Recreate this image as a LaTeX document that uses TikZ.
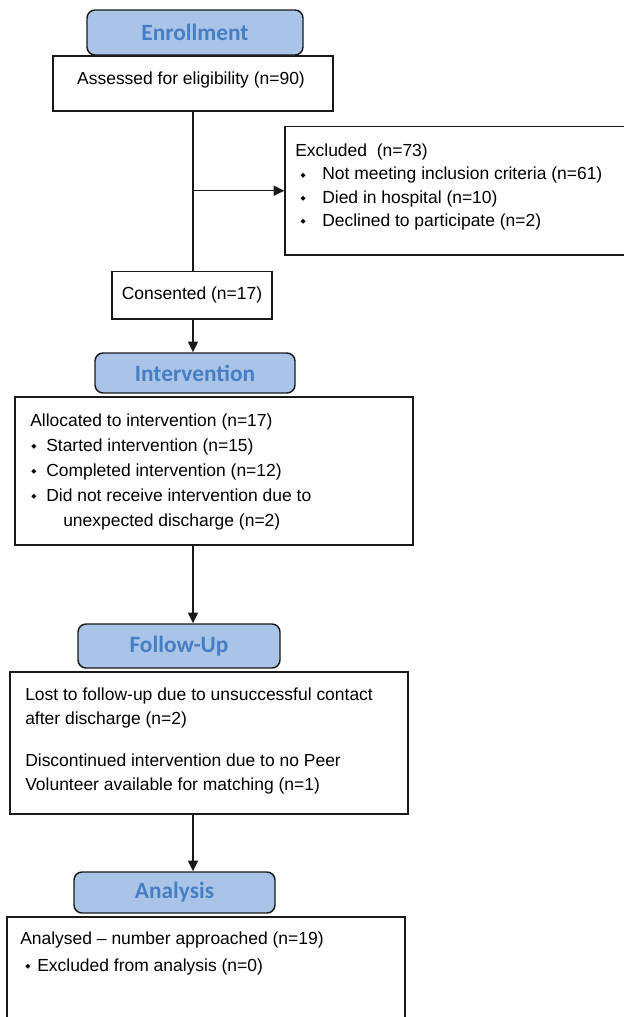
\documentclass[tikz,border=0pt]{standalone}
\usepackage{fontspec}
\setmainfont{Liberation Sans}
\newfontfamily\headfont{Carlito}
\newfontfamily\symbfont{DejaVu Sans}
\usetikzlibrary{arrows.meta}
\definecolor{headfill}{RGB}{170, 196, 232}
\definecolor{headtext}{RGB}{68, 126, 196}
\definecolor{frame}{RGB}{25, 25, 25}
\newcommand{\dm}{\raisebox{2pt}{\fontsize{5}{5}\selectfont\symbfont ◆}}

\tikzset{
    header/.style={draw=frame, line width=1.1pt, fill=headfill, rounded corners=6pt,
        text=headtext, font=\headfont\bfseries\fontsize{17.5}{17.5}\selectfont, inner sep=0pt},
    box/.style={draw=frame, line width=1pt, fill=white, inner sep=0pt},
    txt/.style={font=\fontsize{13.1}{18}\selectfont, align=left, anchor=west, inner sep=0pt},
    arr/.style={draw=frame, line width=1pt, -{Triangle[length=8pt, width=7.5pt]}},
    link/.style={draw=frame, line width=1pt}
}

\begin{document}
\begin{tikzpicture}[x=0.75pt, y=-0.75pt]
    \useasboundingbox (0,0) rectangle (624,1017);
    \clip (0,0) rectangle (624,1017);
    \coordinate (spine) at (193,0);

    \node[box, minimum width=210pt, minimum height=41.25pt] (assessbox) at (193,83.5) {};
    \node[txt, anchor=center] (assesstxt) at (191,80) {Assessed for eligibility (n=90)};
    \node[header, minimum width=162pt, minimum height=33.75pt] (enrolhead) at (195,32.5) {Enrollment};

    \node[box, minimum width=266.25pt, minimum height=96.4pt] (exclbox) at (462.5,190.75) {};
    \node[txt, font=\fontsize{13.1}{17.5}\selectfont] (excltxt) at (295,187)
        {Excluded~ (n=73)\\
         \hspace*{4pt}\makebox[16.25pt][l]{\dm}Not meeting inclusion criteria (n=61)\\
         \hspace*{4pt}\makebox[16.25pt][l]{\dm}Died in hospital (n=10)\\
         \hspace*{4pt}\makebox[16.25pt][l]{\dm}Declined to participate (n=2)};

    \node[box, minimum width=120pt, minimum height=35.6pt] (consbox) at (192,295.25) {};
    \node[txt, anchor=center] (constxt) at (192,295) {Consented (n=17)};

    \node[box, minimum width=298.5pt, minimum height=111pt] (interbox) at (214,471) {};
    \node[txt, font=\fontsize{13.1}{18.75}\selectfont] (intertxt) at (30,472)
        {Allocated to intervention (n=17)\\
         \hspace*{0.75pt}\makebox[11.25pt][l]{\dm}Started intervention (n=15)\\
         \hspace*{0.75pt}\makebox[11.25pt][l]{\dm}Completed intervention (n=12)\\
         \hspace*{0.75pt}\makebox[11.25pt][l]{\dm}Did not receive intervention due to\\
         \hspace*{24.75pt}unexpected discharge (n=2)};
    \node[header, minimum width=150pt, minimum height=30pt] (interhead) at (195,373) {Intervention};

    \node[box, minimum width=298.5pt, minimum height=106.5pt] (followbox) at (209,743) {};
    \node[txt] (followtxt) at (25,741)
        {Lost to follow-up due to unsuccessful contact\\
         after discharge (n=2)\\[13.5pt]
         Discontinued intervention due to no Peer\\
         Volunteer available for matching (n=1)};
    \node[header, minimum width=151.5pt, minimum height=33pt] (followhead) at (179,646) {Follow-Up};

    \node[box, minimum width=298.5pt, minimum height=84.75pt] (analbox) at (206,973.5) {};
    \node[txt, font=\fontsize{13.1}{20.25}\selectfont] (analtxt) at (20,953.5)
        {Analysed -- number approached (n=19)\\
         \hspace*{3.75pt}\makebox[9pt][l]{\dm}Excluded from analysis (n=0)};
    \node[header, minimum width=150.75pt, minimum height=30.75pt] (analhead) at (174.5,892.5) {Analysis};

    \coordinate (branch) at (spine |- exclbox.west);
    \draw[link] (spine |- assessbox.south) -- (spine |- consbox.north);
    \draw[arr] (branch) -- (exclbox.west);
    \draw[arr] (spine |- consbox.south) -- (spine |- interhead.north);
    \draw[arr] (spine |- interbox.south) -- (spine |- followhead.north);
    \draw[arr] (spine |- followbox.south) -- (spine |- analhead.north);
\end{tikzpicture}
\end{document}
